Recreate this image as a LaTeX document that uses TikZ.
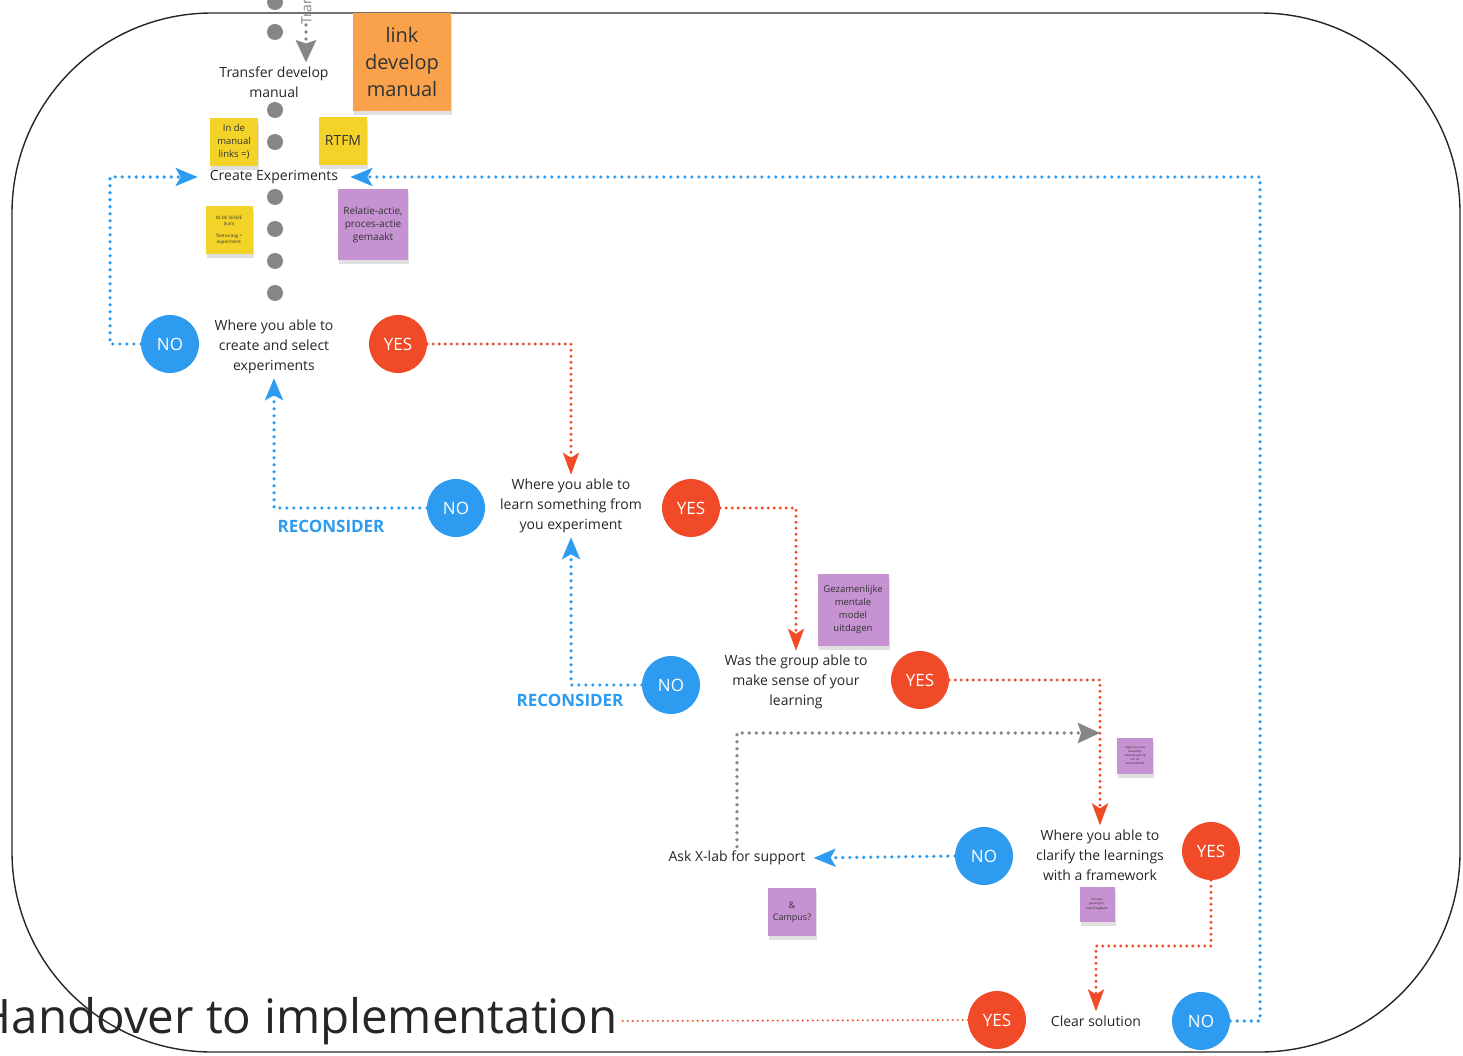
\documentclass[tikz,border=0pt]{standalone}
\usepackage{fontspec}
\setmainfont{Open Sans}
\usetikzlibrary{arrows.meta,shadows}
\definecolor{cblue}{HTML}{2D9BF0}
\definecolor{cred}{HTML}{F04A28}
\definecolor{cgray}{HTML}{868686}
\definecolor{cyel}{HTML}{F4D329}
\definecolor{corange}{HTML}{F9A24B}
\definecolor{cpurple}{HTML}{C792D2}
\newcommand{\fsz}[2]{\fontsize{#1}{#2}\selectfont}
\begin{document}
\begin{tikzpicture}[x=1pt,y=-1pt,
  txt/.style={font=\fsz{14}{20}, align=center, inner sep=4pt, text=black!85},
  nocirc/.style={circle, fill=cblue, minimum size=58pt, inner sep=0pt, text=white, font=\fsz{17}{20}},
  yescirc/.style={circle, fill=cred, minimum size=58pt, inner sep=0pt, text=white, font=\fsz{17}{20}},
  dotg/.style={circle, fill=cgray, minimum size=16pt, inner sep=0pt},
  sticky/.style={align=center, inner sep=1pt, text=black!80,
    drop shadow={shadow xshift=1pt, shadow yshift=-4pt, opacity=0.12, fill=black}},
  bluedot/.style={draw=cblue, line width=3.6pt, line cap=round, dash pattern=on 0pt off 7pt,
    -{Stealth[length=22pt,width=18pt,inset=5pt]}},
  reddot/.style={draw=cred, line width=3.2pt, line cap=round, dash pattern=on 0pt off 6pt,
    -{Stealth[length=22pt,width=16pt,inset=5pt]}},
  graydot/.style={draw=cgray, line width=3.6pt, line cap=round, dash pattern=on 0pt off 7pt,
    -{Stealth[length=22pt,width=20pt,inset=3pt]}},
  recon/.style={text=cblue, font=\bfseries\fsz{17}{20}}
]
\useasboundingbox (0,0) rectangle (1463,1056);

% outer frame
\draw[line width=1.4pt, black!85, rounded corners=200pt] (12,13) rectangle (1460,1052);

% column of gray dots
\foreach \i/\yy in {1/2,2/32,3/110,4/142,5/197,6/229,7/261,8/293}
  \node[dotg] (d\i) at (275,\yy) {};

% incoming transfer arrow
\node[rotate=90, anchor=west, inner sep=0pt, text=cgray, font=\fsz{14}{20}] (tr) at (306,25) {Transfer};
\node[txt] (tdm) at (274,82) {Transfer develop\\manual};
\draw[graydot] (tr.west) -- (tr.west |- tdm.north);

% sticky notes
\node[sticky, fill=corange, minimum width=98pt, minimum height=98pt, font=\fsz{20}{27}] (sorange) at (402,62) {link\\develop\\manual};
\node[sticky, fill=cyel, minimum width=48pt, minimum height=48pt, font=\fsz{9.5}{13}] (sman) at (234,142) {In de\\manual\\links =)};
\node[sticky, fill=cyel, minimum width=48pt, minimum height=48pt, font=\fsz{14}{18}] (srtfm) at (343,141) {RTFM};
\node[sticky, fill=cyel, minimum width=47pt, minimum height=48pt, font=\fsz{4.5}{6}] (ssessie) at (229,230) {IN DE SESSIE\\(kan)\\[6pt]Toetsvraag =\\experiment};
\node[sticky, fill=cpurple, minimum width=70pt, minimum height=71pt, font=\fsz{10}{13}] (srel) at (373,225) {Relatie-actie,\\proces-actie\\gemaakt};
\node[sticky, fill=cpurple, minimum width=71pt, minimum height=72pt, font=\fsz{9.5}{13}] (sgez) at (853,610) {Gezamenlijke\\mentale\\model\\uitdagen};
\node[sticky, fill=cpurple, minimum width=36pt, minimum height=36pt, font=\fsz{3}{4}] (safb) at (1135,756) {afgijn een niet\\toevallige\\weerspiegeling\\van de\\werkelijkheid};
\node[sticky, fill=cpurple, minimum width=35pt, minimum height=35pt, font=\fsz{3.2}{4.5}] (svis) at (1097,904) {Visueel,\\gevangen,\\overdraagbaar};
\node[sticky, fill=cpurple, minimum width=48pt, minimum height=48pt, font=\fsz{9}{12}] (scamp) at (792,912) {\&\\Campus?};

% process texts
\node[txt, inner xsep=12pt] (ce) at (274,177) {Create Experiments};
\node[txt] (wp1) at (274,347) {Where you able to\\create and select\\experiments};
\node[txt] (wp2) at (571,506) {Where you able to\\learn something from\\you experiment};
\node[txt] (wp3) at (796,682) {Was the group able to\\make sense of your\\learning};
\node[txt] (wp4) at (1100,855) {Where you able to\\clarify the learnings\\with a framework};
\node[txt, inner xsep=8pt] (ask) at (737,858) {Ask X-lab for support};
\node[txt] (cs) at (1096,1021) {Clear solution};
\node[anchor=east, inner sep=0pt, font=\fsz{47.5}{54}, text=black!85] (ho) at (618,1021) {Handover to implementation};

% decision circles
\node[nocirc] (n1) at (170,344) {NO};
\node[yescirc] (y1) at (398,344) {YES};
\node[nocirc] (n2) at (456,508) {NO};
\node[yescirc] (y2) at (691,508) {YES};
\node[nocirc] (n3) at (671,685) {NO};
\node[yescirc] (y3) at (920,680) {YES};
\node[nocirc] (n4) at (984,856) {NO};
\node[yescirc] (y4) at (1211,851) {YES};
\node[yescirc] (y5) at (997,1020) {YES};
\node[nocirc] (n5) at (1201,1021) {NO};

\node[recon] (rc1) at (331,526) {RECONSIDER};
\node[recon] (rc2) at (570,700) {RECONSIDER};

% connectors
\draw[bluedot] (n1.west) -- (110,344) |- (ce.west);
\draw[bluedot] (n5.east) -- (1260,1021) |- (ce.east);
\draw[reddot] (y1.east) -| (wp2.north);
\draw[bluedot] (n2.west) -| (wp1.south);
\draw[reddot] (y2.east) -| (wp3.north);
\draw[bluedot] (n3.west) -| (wp2.south);
\draw[reddot] (y3.east) -| (wp4.north);
\coordinate (xl) at (1100,733);
\draw[graydot] (ask.north) |- (xl);
\draw[bluedot] (n4.west) -- (ask.east);
\draw[reddot] (y4.south) -- (1211,946) -| (cs.north);
\draw[draw=cred, line width=2.2pt, line cap=round, dash pattern=on 0pt off 5pt] (y5.west) -- (ho.east);
\end{tikzpicture}
\end{document}
